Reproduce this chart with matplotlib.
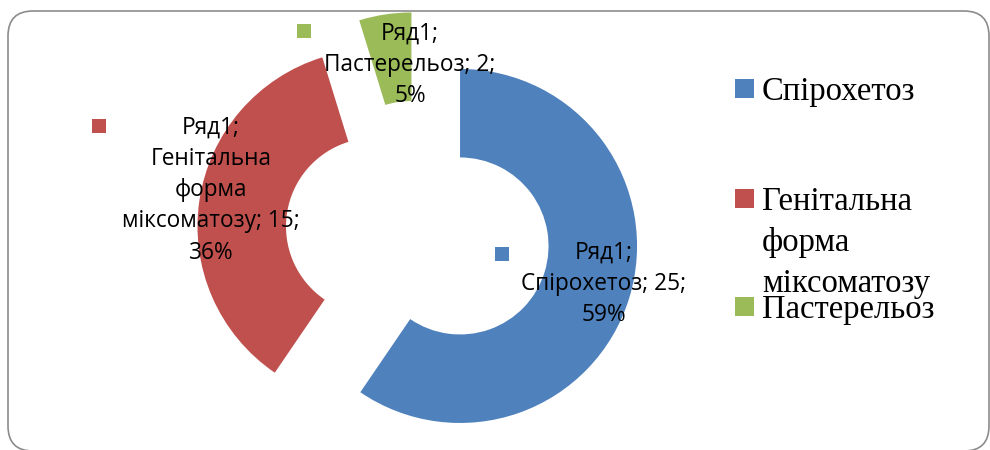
import matplotlib
matplotlib.use('Agg')
import matplotlib.pyplot as plt
from matplotlib.patches import Rectangle, FancyBboxPatch

# data
series_name = 'Ряд1'
categories = ['Спірохетоз', 'Генітальна\nформа\nміксоматозу', 'Пастерельоз']
values = [25, 15, 2]
percents = [59, 36, 5]
colors = ['#4F81BD', '#C0504D', '#9BBB59']

# layout, in pixels (y grows downward)
W, H = 990, 450
center = (418, 233)
radius = 177
ring_width = 88.5
explode_px = 44

label_centers = [(604, 284), (211, 190), (410, 65)]
label_keys = [(495, 247), (92, 119), (297, 24)]
legend_baselines = [100, 210, 318]
legend_step = 41

sans = ['Open Sans', 'DejaVu Sans']
serif = ['Liberation Serif', 'DejaVu Serif']

fig = plt.figure(figsize=(W / 100, H / 100), dpi=100)
ax = fig.add_axes([0, 0, 1, 1])

ax.pie(values, colors=colors, startangle=-90, counterclock=True,
       radius=radius, center=center, explode=[explode_px] * len(values),
       wedgeprops=dict(width=ring_width, linewidth=0))

ax.set_xlim(0, W)
ax.set_ylim(H, 0)
ax.set_aspect('equal')
ax.axis('off')

# chart frame
frame = FancyBboxPatch((8, 11), 981, 440,
                       boxstyle='round,pad=0,rounding_size=25',
                       fill=False, edgecolor='#8C8C8C', linewidth=1.2,
                       clip_on=False)
ax.add_patch(frame)

# data labels
for name, v, p, c, (lx, ly), (kx, ky) in zip(categories, values, percents, colors,
                                              label_centers, label_keys):
    txt = f'{series_name};\n{name}; {v};\n{p}%'
    ax.text(lx, ly, txt, ha='center', va='center', multialignment='center',
            fontsize=16.3, family=sans, linespacing=1.41, color='black')
    ax.add_patch(Rectangle((kx, ky), 14, 14, color=c, linewidth=0))

# legend
for name, c, yb in zip(categories, colors, legend_baselines):
    ax.add_patch(Rectangle((735, yb - 21), 19, 19, color=c, linewidth=0))
    for i, line in enumerate(name.split('\n')):
        ax.text(762, yb + i * legend_step, line, ha='left', va='baseline',
                fontsize=23.5, family=serif, color='black')

fig.savefig('out.png', dpi=100)
